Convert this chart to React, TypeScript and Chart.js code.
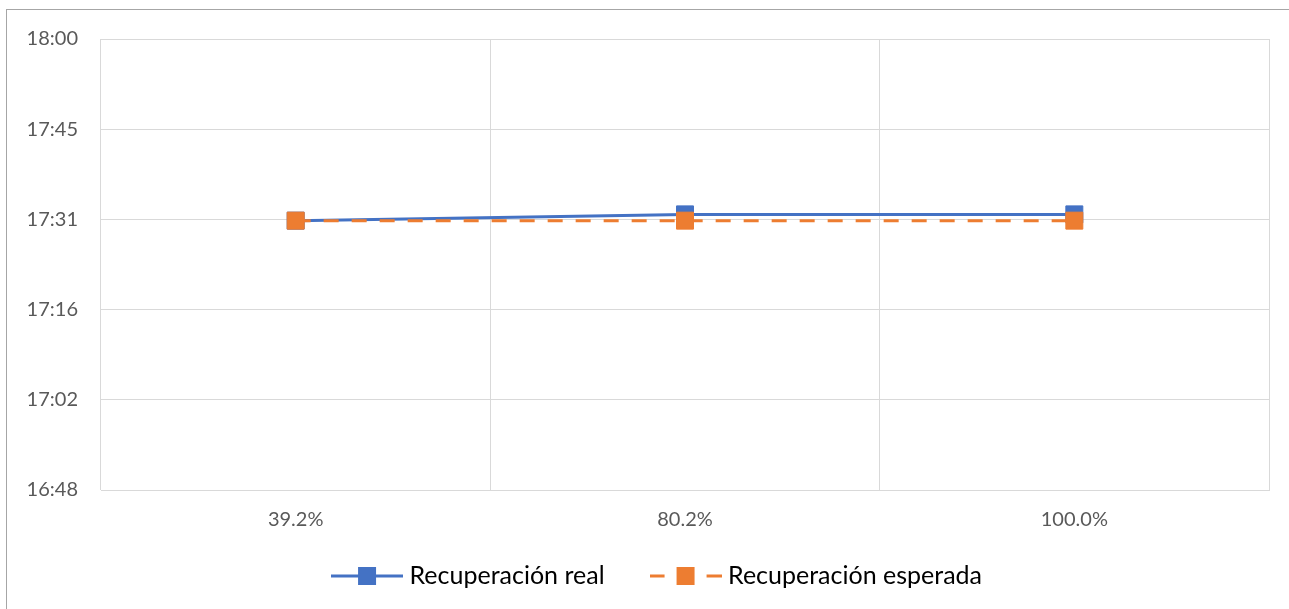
import React, { useEffect, useRef } from "react";
import { Chart, registerables } from "chart.js";

Chart.register(...registerables);

// ---- data ----
const categories = ["39.2%", "80.2%", "100.0%"];
const seriesNames = ["Recuperación real", "Recuperación esperada"];
const realRecovery = ["17:31", "17:32", "17:32"];
const expectedRecovery = ["17:31", "17:31", "17:31"];
const yTickLabels = ["16:48", "17:02", "17:16", "17:31", "17:45", "18:00"];
const yAxisMin = "16:48";
const yAxisMax = "18:00";

const BLUE = "#4472C4";
const ORANGE = "#ED7D31";
const GRID = "#D9D9D9";
const FONT = "Lato";
const LEGEND_TOP = 512.5;
const LEGEND_DX = 15;

const toMinutes = (t: string) => {
  const [h, m, s] = t.split(":").map(Number);
  return h * 60 + m + (s || 0) / 60;
};

function makeLegendIcon(color: string, dashed: boolean): HTMLCanvasElement {
  const c = document.createElement("canvas");
  c.width = 72;
  c.height = 20;
  const ctx = c.getContext("2d")!;
  ctx.strokeStyle = color;
  ctx.fillStyle = color;
  ctx.lineWidth = 3;
  ctx.beginPath();
  if (dashed) {
    ctx.moveTo(0, 10);
    ctx.lineTo(15, 10);
    ctx.moveTo(57, 10);
    ctx.lineTo(72, 10);
  } else {
    ctx.moveTo(0, 10);
    ctx.lineTo(72, 10);
  }
  ctx.stroke();
  ctx.fillRect(27, 1, 18, 18);
  return c;
}

const legendPlacer = {
  id: "legendPlacer",
  afterLayout(chart: any) {
    const l = chart.legend;
    if (!l) return;
    l.top = LEGEND_TOP;
    l.height = 96;
    l.bottom = LEGEND_TOP + 96;
    l.left += LEGEND_DX;
    l.right += LEGEND_DX;
  },
};

export default function App() {
  const ref = useRef<HTMLCanvasElement | null>(null);

  useEffect(() => {
    if (!ref.current) return;
    const yMin = toMinutes(yAxisMin);
    const yMax = toMinutes(yAxisMax);
    const step = (yMax - yMin) / (yTickLabels.length - 1);
    const icons = [makeLegendIcon(BLUE, false), makeLegendIcon(ORANGE, true)];

    const chart = new Chart(ref.current, {
      type: "line",
      data: {
        labels: categories,
        datasets: [
          {
            label: seriesNames[0],
            data: realRecovery.map(toMinutes),
            borderColor: BLUE,
            backgroundColor: BLUE,
            borderWidth: 3,
            pointStyle: "rect",
            pointRadius: 12,
            pointBorderWidth: 1,
            pointBackgroundColor: BLUE,
            pointBorderColor: BLUE,
            tension: 0,
            order: 1,
          },
          {
            label: seriesNames[1],
            data: expectedRecovery.map(toMinutes),
            borderColor: ORANGE,
            backgroundColor: ORANGE,
            borderWidth: 3,
            borderDash: [15, 13],
            pointStyle: "rect",
            pointRadius: 12,
            pointBorderWidth: 1,
            pointBackgroundColor: ORANGE,
            pointBorderColor: ORANGE,
            tension: 0,
            order: 0,
          },
        ],
      },
      options: {
        responsive: false,
        animation: false,
        devicePixelRatio: 1,
        layout: { padding: { left: 20, right: 20, top: 39, bottom: 29 } },
        scales: {
          x: {
            type: "category",
            offset: true,
            grid: { offset: true, color: GRID, lineWidth: 1, drawTicks: false },
            border: { color: GRID, width: 1 },
            ticks: {
              color: "#595959",
              font: { family: FONT, size: 20 },
              padding: 18,
              maxRotation: 0,
            },
            afterFit: (s: any) => {
              s.height = 50;
            },
          },
          y: {
            min: yMin,
            max: yMax,
            grid: { color: GRID, lineWidth: 1, drawTicks: false },
            border: { display: false },
            ticks: {
              stepSize: step,
              color: "#595959",
              font: { family: FONT, size: 20 },
              padding: 23,
              callback: (_v: any, i: number) => yTickLabels[i],
            },
            afterFit: (s: any) => {
              s.width = 81;
            },
          },
        },
        plugins: {
          legend: {
            position: "bottom",
            maxHeight: 40,
            labels: {
              usePointStyle: true,
              pointStyleWidth: 60,
              padding: 51,
              color: "#000000",
              font: { family: FONT, size: 25 },
              sort: (a: any, b: any) => a.datasetIndex - b.datasetIndex,
              generateLabels: (ch: any) =>
                ch.data.datasets.map((ds: any, i: number) => ({
                  text: ds.label,
                  datasetIndex: i,
                  pointStyle: icons[i],
                  fillStyle: ds.borderColor,
                  strokeStyle: ds.borderColor,
                  lineWidth: 0,
                  hidden: false,
                  fontColor: "#000000",
                })),
            },
          },
          tooltip: { enabled: false },
        },
      },
      plugins: [legendPlacer],
    });
    return () => chart.destroy();
  }, []);

  return (
    <div>
      <div
        style={{
          position: "fixed",
          left: 6,
          top: 9,
          width: 1400,
          height: 700,
          border: "1px solid #A6A6A6",
          boxSizing: "border-box",
        }}
      />
      <canvas
        ref={ref}
        width={1289}
        height={609}
        style={{ position: "fixed", left: 0, top: 0, width: 1289, height: 609 }}
      />
    </div>
  );
}
